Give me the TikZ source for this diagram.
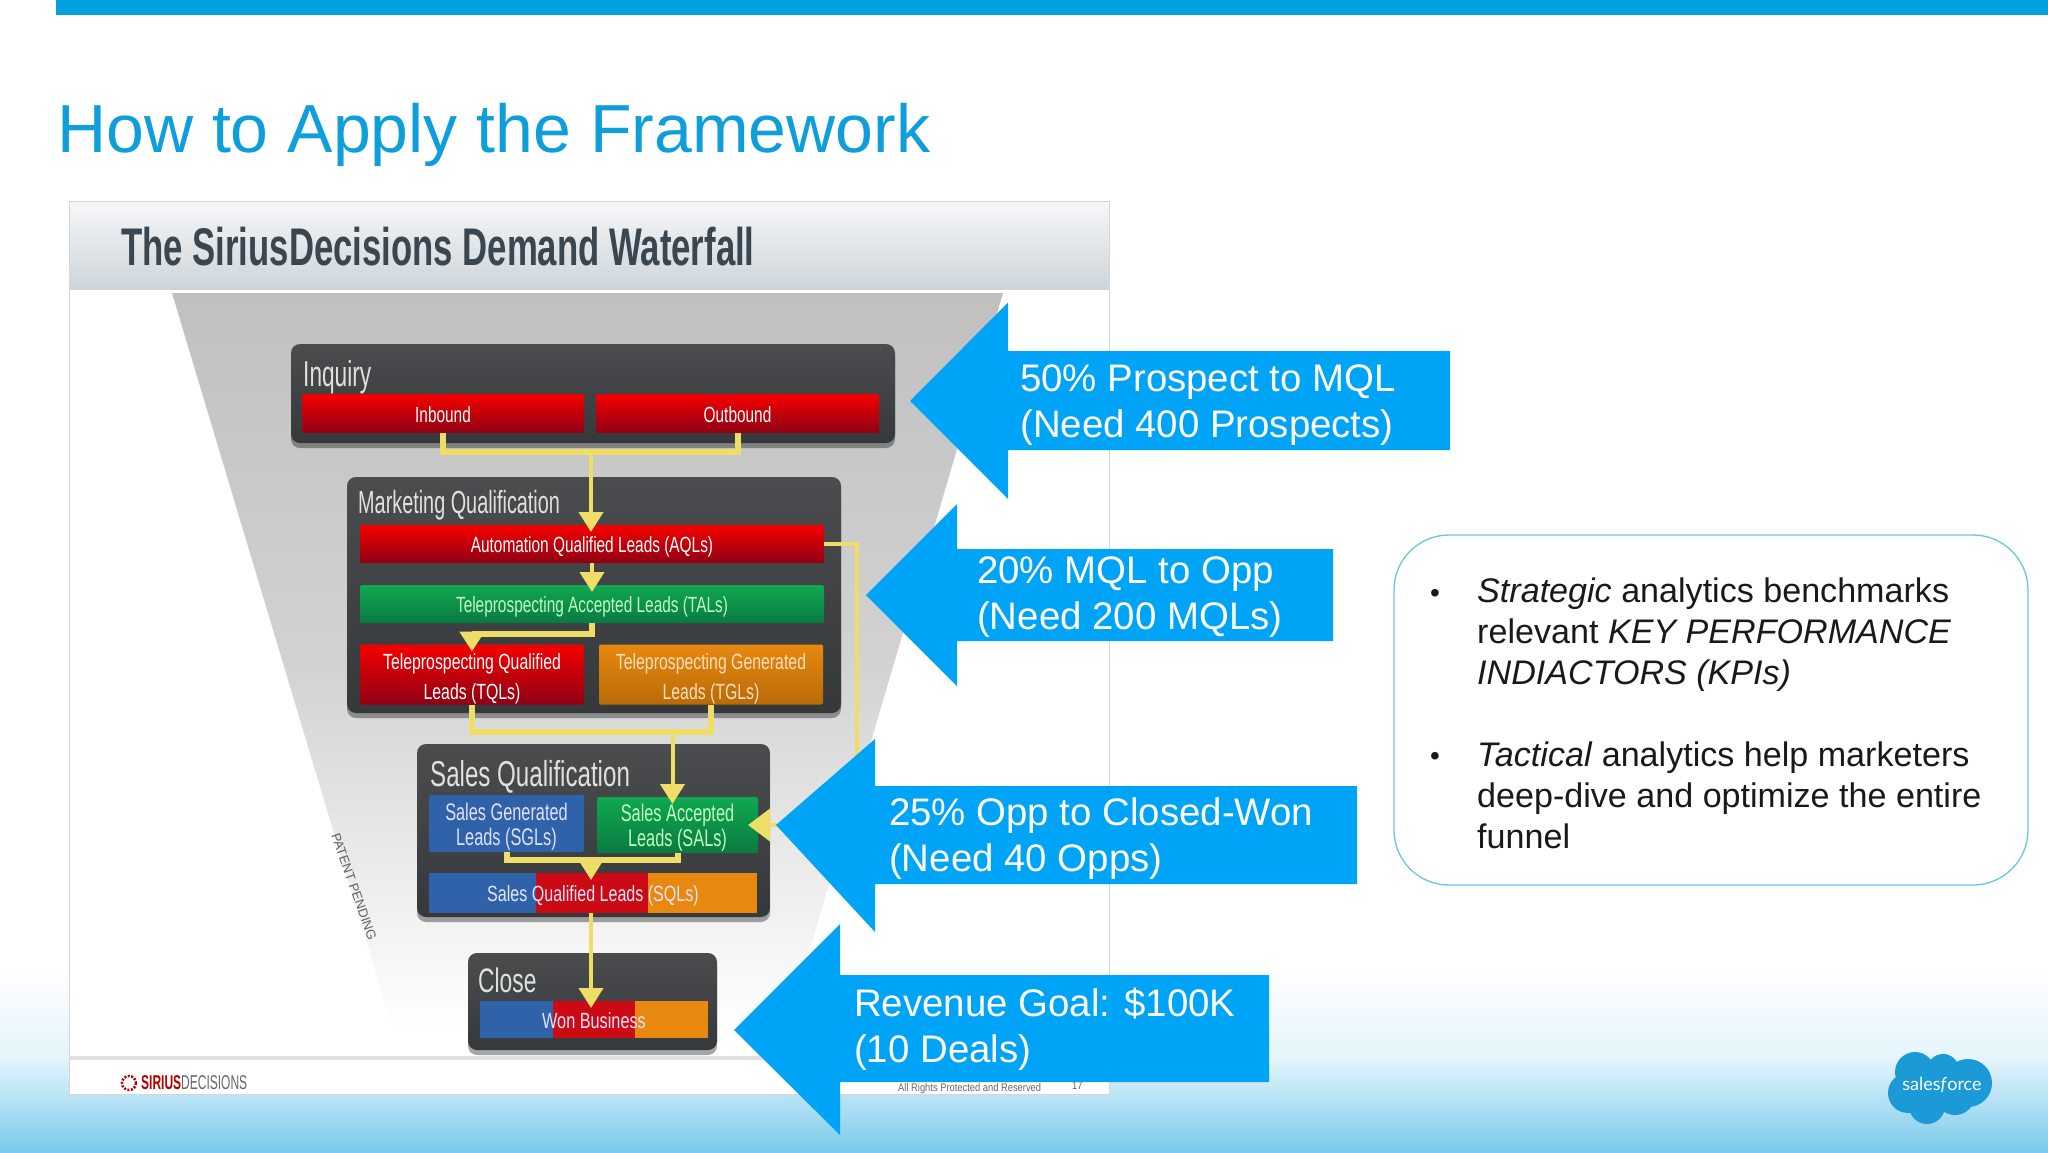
\documentclass[tikz,border=0pt]{standalone}
\usepackage{fontspec}
\usepackage{graphicx}
\setmainfont{Liberation Sans}
\newfontfamily\lato{Lato}
\usetikzlibrary{arrows.meta,shadows,calc}
\definecolor{barblue}{HTML}{00A1E0}
\definecolor{titleblue}{HTML}{0E9FDB}
\definecolor{callout}{HTML}{00A4F6}
\definecolor{skyblue}{HTML}{7ACAEC}
\definecolor{framegray}{HTML}{D4D6D8}
\definecolor{hdrtop}{HTML}{F6F7F8}
\definecolor{hdrbot}{HTML}{CED5DA}
\definecolor{funnelgray}{HTML}{C0C0C0}
\definecolor{funnelmid}{HTML}{D2D2D2}
\definecolor{darkbox}{HTML}{4A4C4E}
\definecolor{darkboxb}{HTML}{36393B}
\definecolor{conn}{HTML}{EEDD66}
\definecolor{redt}{HTML}{F50000}
\definecolor{redb}{HTML}{8E0015}
\definecolor{greent}{HTML}{0FA850}
\definecolor{greenb}{HTML}{0A7A42}
\definecolor{oranget}{HTML}{E8880F}
\definecolor{orangeb}{HTML}{B86A08}
\definecolor{blueb}{HTML}{2F62A8}
\definecolor{bandred}{HTML}{CC0A14}
\definecolor{cloudblue}{HTML}{1C9AD8}
\definecolor{panelline}{HTML}{6CC5E0}
\definecolor{slideink}{HTML}{3A4650}
\newcommand\fs[2]{\fontsize{#1}{#2}\selectfont}
\newcommand\nl[4]{\raisebox{-4pt}[\height][\depth]{\scalebox{#1}[1]{\fontsize{#2}{#3}\selectfont\begin{tabular}{@{}c@{}}#4\end{tabular}}}}
\newcommand\bx[7]{%
  \pgfmathsetmacro\cxx{(#3+#5)/2}\pgfmathsetmacro\cyy{(#4+#6)/2}%
  \pgfmathsetmacro\wxx{#5-#3}\pgfmathsetmacro\hxx{#6-#4}%
  \node[#2,minimum width=\wxx pt,minimum height=\hxx pt,inner sep=0pt,outer sep=0pt] (#1) at (\cxx,\cyy) {#7};}
\tikzset{
  stage/.style={rounded corners=9pt,top color=darkbox,bottom color=darkboxb,
    general shadow={fill=black,opacity=.35,shadow yshift=-5pt}},
  redbar/.style={rounded corners=2pt,top color=redt,bottom color=redb,text=white},
  greenbar/.style={rounded corners=2pt,top color=greent,bottom color=greenb,text=green!25!white},
  orangebar/.style={rounded corners=2pt,top color=oranget,bottom color=orangeb,text=orange!25!white},
  bluebar/.style={rounded corners=2pt,fill=blueb,text=blue!12!white},
  band/.style={text=blue!10!white},
  heading/.style={text=white!88!black,anchor=west,inner sep=0pt},
  link/.style={draw=conn,line width=4pt,line join=miter},
  elbow/.style={draw=conn,line width=6pt,line join=miter},
  flow/.style={draw=conn,line width=4pt,-{Triangle[width=24pt,length=20pt,fill=conn]},shorten >=-7pt},
  calloutshape/.style={fill=callout,draw=none},
  callouttext/.style={anchor=west,inner sep=0pt,align=left,text=white,font=\fs{38.4}{46}},
  paneltext/.style={anchor=north west,inner sep=0pt,align=left,text=black!90,font=\fs{34.1}{41}},
  bulletmark/.style={anchor=center,inner sep=0pt,text=black!90,font=\fs{28}{28}},
}
\begin{document}
\begin{tikzpicture}[x=1pt,y=-1pt]
\useasboundingbox (0,0) rectangle (2048,1152);
\fill[white] (0,0) rectangle (2048,1152);
% page background
\shade[top color=white,bottom color=skyblue,middle color=skyblue!20!white] (0,965) rectangle (2048,1152);
\fill[barblue] (56,0) rectangle (2048,15);
\node[anchor=base west,inner sep=0pt,text=titleblue,font=\fs{68}{80}] (pagetitle) at (57,152) {How to Apply the Framework};
% embedded slide
\fill[white] (69,201) rectangle (1109,1094);
\shade[top color=hdrtop,bottom color=hdrbot] (69,201) rectangle (1109,289);
\draw[framegray,line width=1pt] (69,201) rectangle (1109,1094);
\node[anchor=west,inner sep=0pt,text=slideink] (slidetitle) at (121,249) {\nl{.655}{53}{60}{\textbf{The SiriusDecisions Demand Waterfall}}};
\shade[top color=funnelgray,bottom color=white,middle color=funnelmid] (172,293) -- (1003,293) -- (786,1030) -- (393,1030) -- cycle;
% stages
\bx{inq}{stage}{291}{344}{895}{443}{}
\bx{mql}{stage}{347}{477}{841}{713}{}
\bx{sq}{stage}{417}{744}{770}{917}{}
\bx{cl}{stage}{468}{953}{717}{1050}{}
\node[heading] (inqh) at (303,375) {\nl{.63}{36}{36}{Inquiry}};
\node[heading] (mqlh) at (358,503) {\nl{.62}{32}{32}{Marketing Qualification}};
\node[heading] (sqh) at (430,775) {\nl{.67}{36}{36}{Sales Qualification}};
\node[heading] (clh) at (478,981) {\nl{.67}{34}{34}{Close}};
% bars
\bx{inb}{redbar}{302}{394}{584}{433}{\nl{.7}{22}{22}{Inbound}}
\bx{outb}{redbar}{596}{394}{879}{433}{\nl{.7}{22}{22}{Outbound}}
\bx{aql}{redbar}{360}{525}{824}{563}{\nl{.7}{22}{22}{Automation Qualified Leads (AQLs)}}
\bx{tal}{greenbar}{360}{585}{824}{623}{\nl{.7}{22}{22}{Teleprospecting Accepted Leads (TALs)}}
\bx{tql}{redbar}{360}{645}{584}{704}{\nl{.72}{22}{30}{Teleprospecting Qualified\\Leads (TQLs)}}
\bx{tgl}{orangebar}{599}{645}{823}{704}{\nl{.72}{22}{30}{Teleprospecting Generated\\Leads (TGLs)}}
\bx{sgl}{bluebar}{429}{795}{584}{852}{\nl{.68}{24}{25}{Sales Generated\\Leads (SGLs)}}
\bx{sal}{greenbar}{597}{797}{758}{853}{\nl{.68}{24}{25}{Sales Accepted\\Leads (SALs)}}
% multi-coloured bars
\fill[blueb] (429,873) rectangle (536,913);
\fill[bandred] (536,873) rectangle (648,913);
\fill[oranget] (648,873) rectangle (757,913);
\bx{sql}{band}{429}{873}{757}{913}{\nl{.73}{22}{22}{Sales Qualified Leads (SQLs)}}
\fill[blueb] (480,1001) rectangle (553,1038);
\fill[bandred] (553,1001) rectangle (635,1038);
\fill[oranget] (635,1001) rectangle (708,1038);
\bx{won}{band}{480}{1001}{708}{1038}{\nl{.74}{22}{22}{Won Business}}
% connectors
\coordinate (ja) at (591,452);
\coordinate (jb) at (672.5,732);
\coordinate (jc) at (591,860);
\coordinate (jd) at (856.5,825);
\draw[elbow] (inb.south) |- (ja) -| (outb.south);
\draw[flow] (ja) -- (ja |- aql.north);
\draw[flow] (aql.south) -- (tal.north);
\draw[elbow,-{Triangle[width=24pt,length=20pt,fill=conn]},shorten >=-7pt] (tal.south) -- ++(0,11) -| (tql.north);
\draw[elbow] (tql.south) |- (jb) -| (tgl.south);
\draw[flow] (jb) -- (jb |- sal.north);
\draw[elbow] (sgl.south) |- (jc) -| (sal.south);
\draw[flow] (jc) -- (jc |- sql.north);
\draw[flow] (jc |- sql.south) -- (jc |- won.north);
\draw[link,-{Triangle[width=32pt,length=22pt,fill=conn]},shorten >=-10pt] (aql.east) -- (aql.east -| jd) -- (jd) -- (sal.east |- jd);
% patent mark and slide footer
\node[rotate=-70.5,inner sep=0pt,text=black!62] (patent) at (356,886) {\nl{1}{13}{13}{PATENT PENDING}};
\draw[black!12,line width=4pt] (69,1058) -- (1109,1058);
\draw[red!70!black,line width=2.5pt,dash pattern=on 2pt off 1.5pt] (129,1083) circle (7);
\node[anchor=west,inner sep=0pt] (sirius) at (141,1081) {\nl{.6}{20}{20}{\textcolor{red!70!black}{\textbf{SIRIUS}}\textcolor{black!60}{DECISIONS}}};
\node[anchor=west,inner sep=0pt,text=black!60] (rights) at (898,1085) {\nl{.85}{11}{11}{All Rights Protected and Reserved}};
\node[anchor=west,inner sep=0pt,text=black!60] (pageno) at (1072,1083) {\nl{.85}{11}{11}{17}};
% blue callouts
\fill[calloutshape] (910,401) -- (1008,302.5) -- (1008,351) -- (1450,351) -- (1450,450) -- (1008,450) -- (1008,499) -- cycle;
\fill[calloutshape] (866,595) -- (957,504) -- (957,549) -- (1333,549) -- (1333,641) -- (957,641) -- (957,686) -- cycle;
\fill[calloutshape] (776,825) -- (875,739) -- (875,786) -- (1357,786) -- (1357,884) -- (875,884) -- (875,932) -- cycle;
\fill[calloutshape] (734,1030) -- (840,924) -- (840,975) -- (1269,975) -- (1269,1082) -- (840,1082) -- (840,1135) -- cycle;
\node[callouttext] (ca) at (1020,405) {50\% Prospect to MQL\\(Need 400 Prospects)};
\node[callouttext] (cb) at (977,597) {20\% MQL to Opp\\(Need 200 MQLs)};
\node[callouttext] (cc) at (889,839) {25\% Opp to Closed-Won\\(Need 40 Opps)};
\node[callouttext] (cd) at (854,1029) {Revenue Goal: \$100K\\(10 Deals)};
% side panel
\bx{panel}{draw=panelline,line width=1.3pt,rounded corners=55pt}{1394}{535}{2028}{885}{}
\node[bulletmark] (ba) at (1435,596) {•};
\node[bulletmark] (bb) at (1435,759) {•};
\node[paneltext] (ta) at (1477,578) {\textit{Strategic} analytics benchmarks\\relevant \textit{KEY PERFORMANCE}\\\textit{INDIACTORS (KPIs)}};
\node[paneltext] (tb) at (1477,742) {\textit{Tactical} analytics help marketers\\deep-dive and optimize the entire\\funnel};
% salesforce logo
\fill[cloudblue] (1915,1072) circle (20) (1943,1070) circle (16) (1968,1083) circle (24) (1908,1093) circle (20) (1927,1106) circle (18) (1955,1095) circle (20);
\fill[cloudblue] (1912,1072) rectangle (1965,1105);
\node[inner sep=0pt,text=white,font=\lato\fs{18}{20}] (sf) at (1942,1085) {sales\textit{f}orce};
\end{tikzpicture}
\end{document}
